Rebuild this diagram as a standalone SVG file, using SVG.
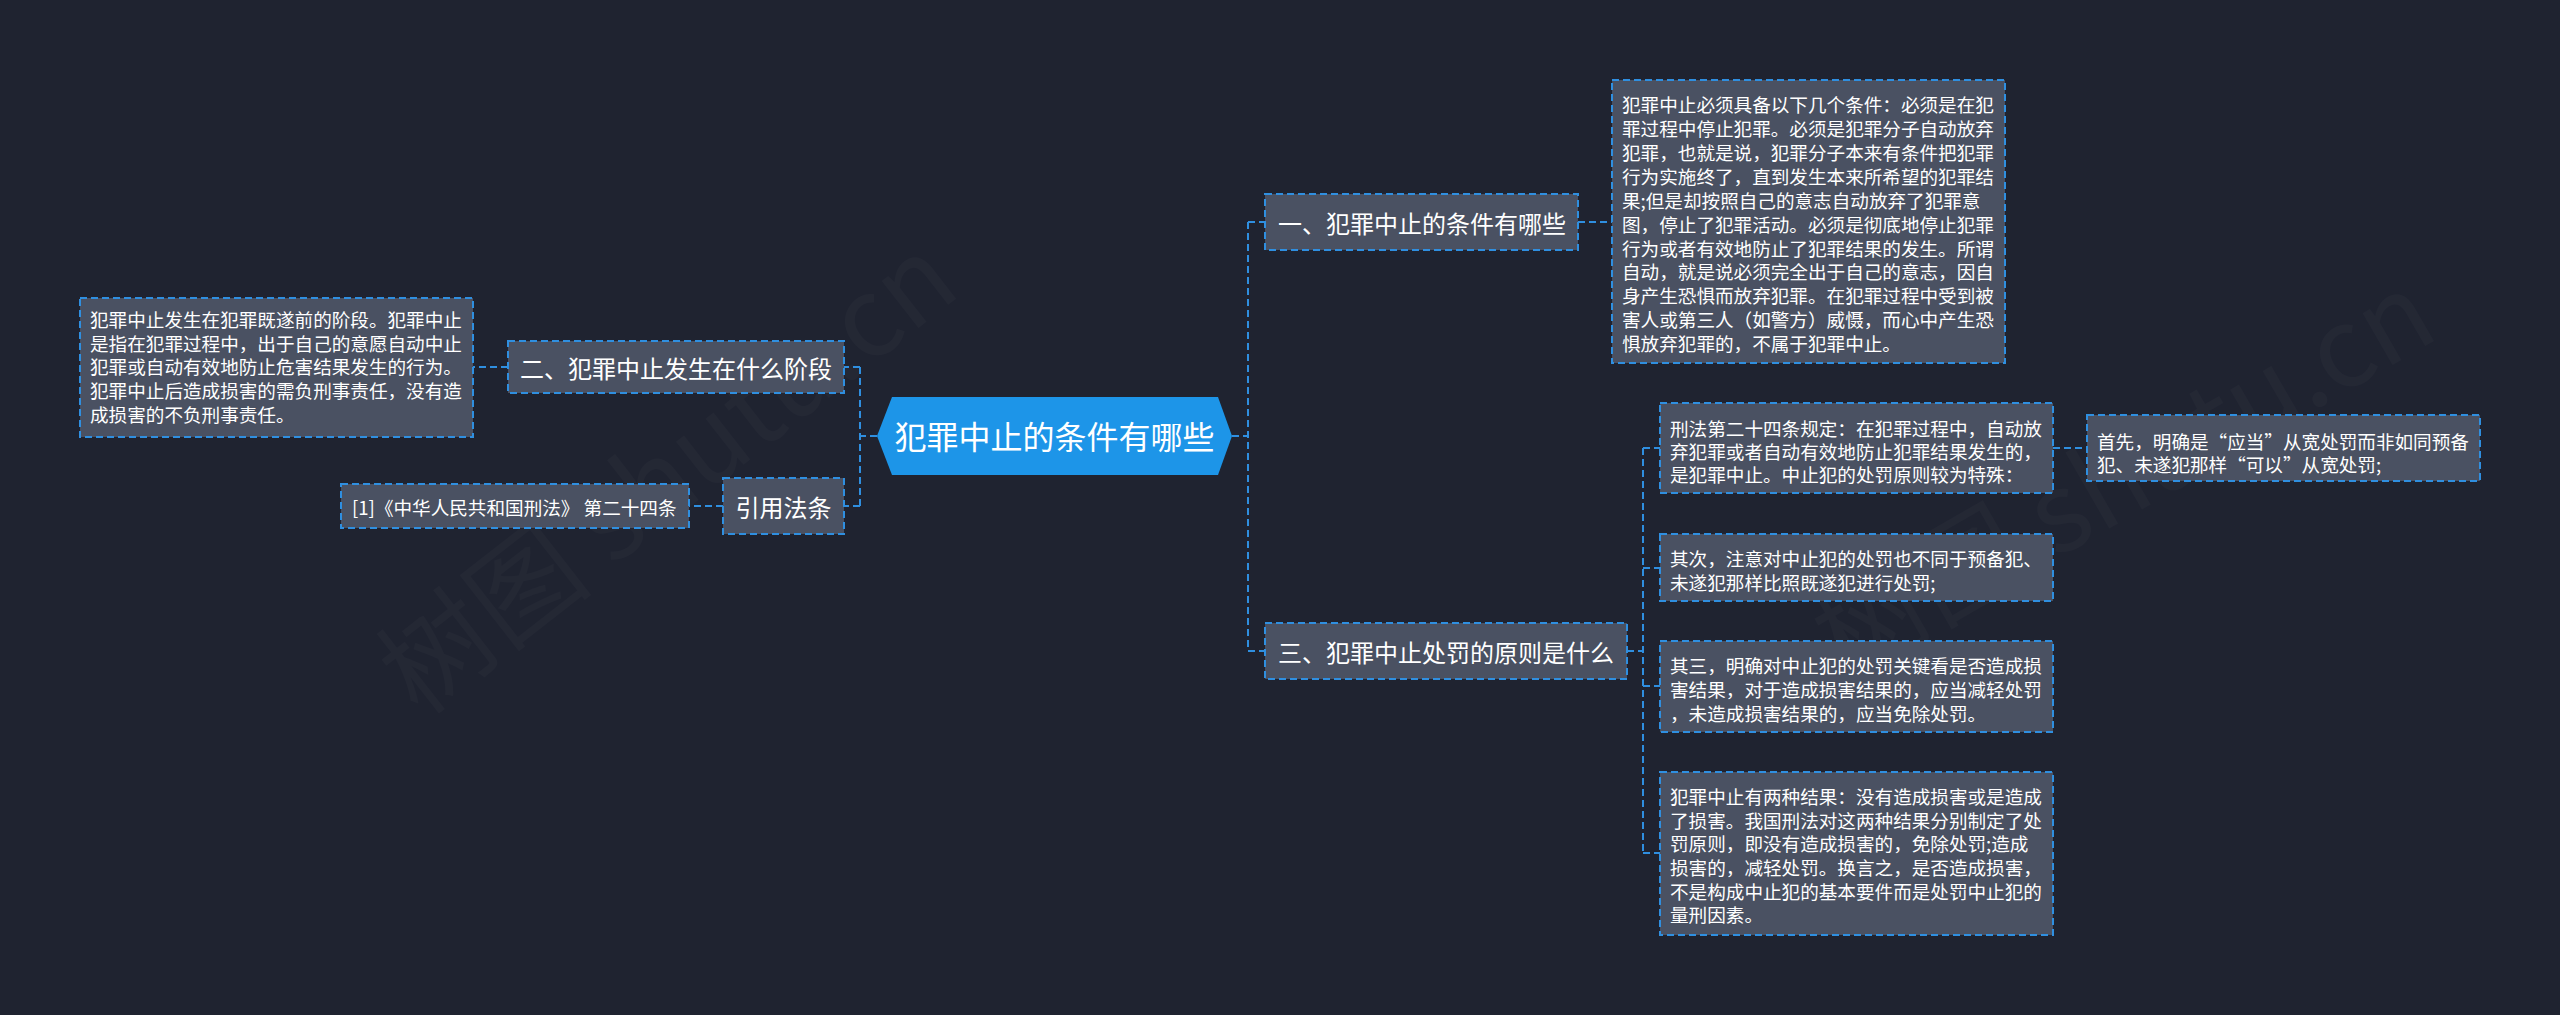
<svg xmlns="http://www.w3.org/2000/svg" width="2560" height="1015" viewBox="0 0 2560 1015">
<style>
.bg{fill:#1f2330}
.box{fill:#4a5162;stroke:#2f8fe0;stroke-width:2;stroke-dasharray:7 4}
.root{fill:#1d95e8}
.ln{fill:none;stroke:#2f8fe0;stroke-width:2;stroke-dasharray:7 4}
text{font-family:"Noto Sans CJK SC","Noto Sans",sans-serif;fill:#ffffff;dominant-baseline:central}
.t24{font-size:24px}
.t18{font-size:18.6px}
.t32{font-size:32px}
.wm{font-size:110px;fill:#ffffff;opacity:0.02}
</style>
<rect class="bg" x="0" y="0" width="2560" height="1015"/>
<g id="watermark">
<text class="wm" x="390" y="680" transform="rotate(-38 390 680)">树图 shutu.cn</text>
<text class="wm" x="1820" y="640" transform="rotate(-30 1820 640)">树图 shutu.cn</text>
</g>
<g id="connectors">
<path class="ln" d="M1232 436 H1248 M1248 222 V651 M1248 222 H1265 M1248 651 H1265"/>
<path class="ln" d="M1578 222 H1612"/>
<path class="ln" d="M1627 651 H1643 M1643 448 V853 M1643 448 H1660 M1643 568 H1660 M1643 686 H1660 M1643 853 H1660"/>
<path class="ln" d="M2053 448 H2087"/>
<path class="ln" d="M877 436 H860 M860 367 V506 M860 367 H844 M860 506 H844"/>
<path class="ln" d="M508 367 H473"/>
<path class="ln" d="M723 506 H689"/>
</g>
<g id="root">
<polygon class="root" points="877,436 892,397 1218,397 1232,436 1218,475 892,475"/>
<text class="t32" x="1054.5" y="435" text-anchor="middle">犯罪中止的条件有哪些</text>
</g>
<g id="n1">
<rect class="box" x="1265" y="194" width="313" height="56"/>
<text class="t24" x="1278" y="222">一、犯罪中止的条件有哪些</text>
</g>
<g id="n1d">
<rect class="box" x="1612" y="80" width="393" height="283"/>
<text class="t18" x="1622" y="103">犯罪中止必须具备以下几个条件：必须是在犯</text>
<text class="t18" x="1622" y="127">罪过程中停止犯罪。必须是犯罪分子自动放弃</text>
<text class="t18" x="1622" y="151">犯罪，也就是说，犯罪分子本来有条件把犯罪</text>
<text class="t18" x="1622" y="175">行为实施终了，直到发生本来所希望的犯罪结</text>
<text class="t18" x="1622" y="199">果;但是却按照自己的意志自动放弃了犯罪意</text>
<text class="t18" x="1622" y="223">图，停止了犯罪活动。必须是彻底地停止犯罪</text>
<text class="t18" x="1622" y="247">行为或者有效地防止了犯罪结果的发生。所谓</text>
<text class="t18" x="1622" y="270">自动，就是说必须完全出于自己的意志，因自</text>
<text class="t18" x="1622" y="294">身产生恐惧而放弃犯罪。在犯罪过程中受到被</text>
<text class="t18" x="1622" y="318">害人或第三人（如警方）威慑，而心中产生恐</text>
<text class="t18" x="1622" y="342">惧放弃犯罪的，不属于犯罪中止。</text>
</g>
<g id="n2">
<rect class="box" x="508" y="341" width="336" height="52"/>
<text class="t24" x="520" y="367">二、犯罪中止发生在什么阶段</text>
</g>
<g id="n2d">
<rect class="box" x="80" y="298" width="393" height="139"/>
<text class="t18" x="90" y="318">犯罪中止发生在犯罪既遂前的阶段。犯罪中止</text>
<text class="t18" x="90" y="342">是指在犯罪过程中，出于自己的意愿自动中止</text>
<text class="t18" x="90" y="365">犯罪或自动有效地防止危害结果发生的行为。</text>
<text class="t18" x="90" y="389">犯罪中止后造成损害的需负刑事责任，没有造</text>
<text class="t18" x="90" y="413">成损害的不负刑事责任。</text>
</g>
<g id="n4">
<rect class="box" x="723" y="478" width="121" height="56"/>
<text class="t24" x="783.5" y="506" text-anchor="middle">引用法条</text>
</g>
<g id="n4d">
<rect class="box" x="341" y="484" width="348" height="44"/>
<text class="t18" x="352" y="506">[1]《中华人民共和国刑法》 第二十四条</text>
</g>
<g id="n3">
<rect class="box" x="1265" y="623" width="362" height="56"/>
<text class="t24" x="1278" y="651">三、犯罪中止处罚的原则是什么</text>
</g>
<g id="n3a">
<rect class="box" x="1660" y="403" width="393" height="90"/>
<text class="t18" x="1670" y="427">刑法第二十四条规定：在犯罪过程中，自动放</text>
<text class="t18" x="1670" y="450">弃犯罪或者自动有效地防止犯罪结果发生的，</text>
<text class="t18" x="1670" y="473">是犯罪中止。中止犯的处罚原则较为特殊：</text>
</g>
<g id="n3b">
<rect class="box" x="2087" y="415" width="393" height="66"/>
<text class="t18" x="2097" y="440">首先，明确是“应当”从宽处罚而非如同预备</text>
<text class="t18" x="2097" y="463">犯、未遂犯那样“可以”从宽处罚;</text>
</g>
<g id="n3c">
<rect class="box" x="1660" y="534" width="393" height="67"/>
<text class="t18" x="1670" y="557">其次，注意对中止犯的处罚也不同于预备犯、</text>
<text class="t18" x="1670" y="581">未遂犯那样比照既遂犯进行处罚;</text>
</g>
<g id="n3d">
<rect class="box" x="1660" y="641" width="393" height="91"/>
<text class="t18" x="1670" y="664">其三，明确对中止犯的处罚关键看是否造成损</text>
<text class="t18" x="1670" y="688">害结果，对于造成损害结果的，应当减轻处罚</text>
<text class="t18" x="1670" y="712">，未造成损害结果的，应当免除处罚。</text>
</g>
<g id="n3e">
<rect class="box" x="1660" y="772" width="393" height="163"/>
<text class="t18" x="1670" y="795">犯罪中止有两种结果：没有造成损害或是造成</text>
<text class="t18" x="1670" y="819">了损害。我国刑法对这两种结果分别制定了处</text>
<text class="t18" x="1670" y="842">罚原则，即没有造成损害的，免除处罚;造成</text>
<text class="t18" x="1670" y="866">损害的，减轻处罚。换言之，是否造成损害，</text>
<text class="t18" x="1670" y="890">不是构成中止犯的基本要件而是处罚中止犯的</text>
<text class="t18" x="1670" y="913">量刑因素。</text>
</g>
</svg>
